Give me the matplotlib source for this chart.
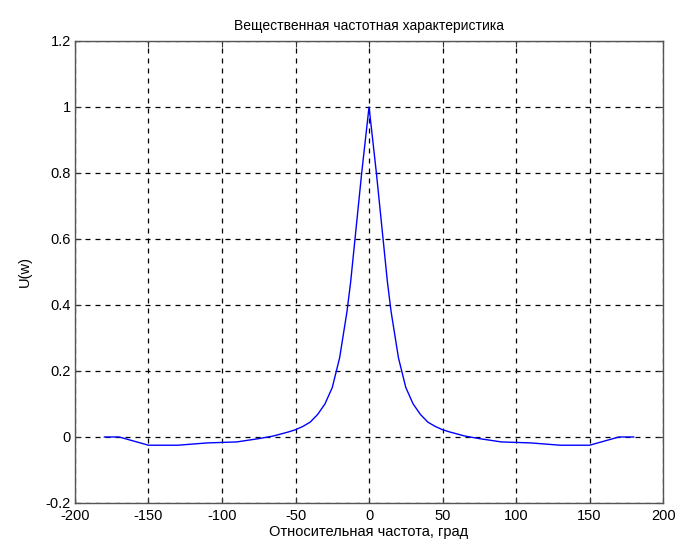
import matplotlib
matplotlib.use("Agg")
import matplotlib.pyplot as plt
import numpy as np

# half-curve (symmetric around 0)
freq_pos = [0, 2.5, 5, 7.5, 10, 12.5, 15, 20, 25, 30, 35, 40, 45, 50, 55, 65, 75, 90, 110, 130, 150, 170, 180]
resp_pos = [1.0, 0.90, 0.80, 0.69, 0.58, 0.47, 0.38, 0.24, 0.15, 0.10, 0.068, 0.045, 0.032, 0.022, 0.015, 0.003,
            -0.005, -0.015, -0.018, -0.025, -0.025, 0.0, 0.0]

freq = [-f for f in freq_pos[::-1]] + freq_pos[1:]
resp = resp_pos[::-1] + resp_pos[1:]

xticks = [-200, -150, -100, -50, 0, 50, 100, 150, 200]
yticks = [-0.2, 0, 0.2, 0.4, 0.6, 0.8, 1, 1.2]
ytick_labels = ["-0.2", "0", "0.2", "0.4", "0.6", "0.8", "1", "1.2"]

title = "Вещественная частотная характеристика"
xlabel = "Относительная частота, град"
ylabel = "U(w)"

plt.rcParams['font.family'] = ['Liberation Sans', 'DejaVu Sans']
plt.rcParams['axes.unicode_minus'] = False

fig = plt.figure(figsize=(6.78, 5.5), dpi=100)
ax = fig.add_axes([0.1106, 0.0855, 0.978 - 0.1106, 0.9255 - 0.0855])
ax.plot(freq, resp, color='#0000ff', lw=1.0)
ax.set_xlim(-200, 200)
ax.set_ylim(-0.2, 1.2)
ax.set_xticks(xticks)
ax.set_xticklabels([str(t) for t in xticks])
ax.set_yticks(yticks)
ax.set_yticklabels(ytick_labels)
ax.grid(True, color='black', linestyle=(0, (4, 4)), linewidth=0.9)
ax.tick_params(direction='in', top=True, right=True, length=4, labelsize=10.5, colors='#333333',
               labelcolor='black', pad=3)
ax.tick_params(axis='x', pad=4)
for s in ax.spines.values():
    s.set_color('#555555')
    s.set_linewidth(1.0)
ax.set_title(title, fontsize=10, pad=8)
ax.set_xlabel(xlabel, fontsize=10.5, labelpad=2)
ax.set_ylabel(ylabel, fontsize=10.5, labelpad=10)
fig.savefig("out.png", dpi=100)
